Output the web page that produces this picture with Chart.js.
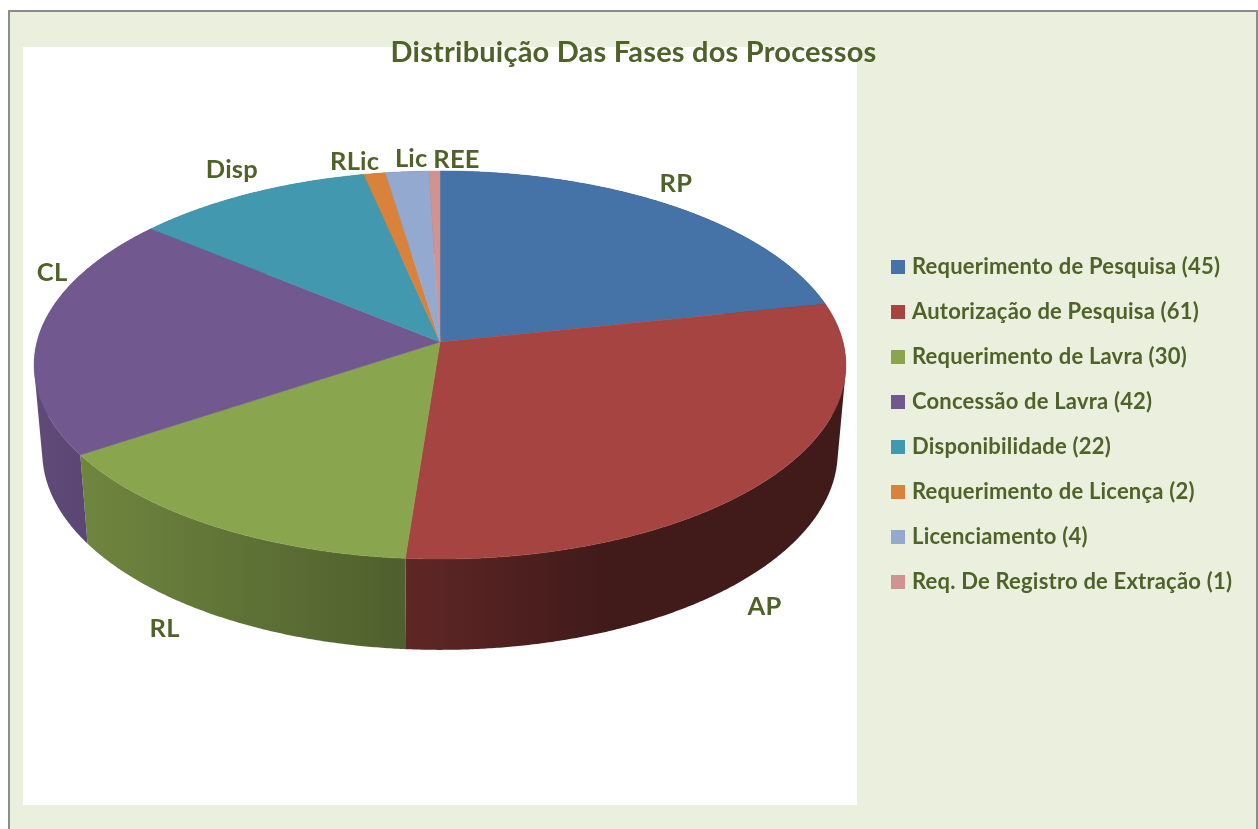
<!DOCTYPE html>
<html><head><meta charset="utf-8">
<style>html,body{margin:0;padding:0;background:#fff}canvas{display:block}</style>
<script src="https://cdn.jsdelivr.net/npm/chart.js@4"></script>
</head><body><div style="width:1258px;height:829px"><canvas id="c"></canvas></div>
<script>
const chartTitle = 'Distribuição Das Fases dos Processos';
const categories = ['Requerimento de Pesquisa (45)','Autorização de Pesquisa (61)','Requerimento de Lavra (30)','Concessão de Lavra (42)','Disponibilidade (22)','Requerimento de Licença (2)','Licenciamento (4)','Req. De Registro de Extração (1)'];
const shortLabels = ['RP','AP','RL','CL','Disp','RLic','Lic','REE'];
const values = [45,61,30,42,22,2,4,1];
const colors = ['#4572A7','#A64442','#89A54E','#71588F','#4198AF','#D9823C','#93A9CF','#D19392'];
const labelOffsets = [[3,-22],[-4,128],[-48,103],[12,-59],[-18,-24],[-20,-12],[4,-13],[22,-11]];

const TEXT = '#4F6228', FONT = 'Lato, Carlito, sans-serif';
// perspective of the disc
const P = {cx:440, cy:342, k:403, a:191.3, c:-0.1186, depth:86.5, xs:0.98, ys:1.02};
function topPt(ang){const u=Math.cos(ang),v=Math.sin(ang),d=1+P.c*v;return [P.cx+P.k*u/d,P.cy+P.a*v/d];}
function lowPt(ang){const u=Math.cos(ang),v=Math.sin(ang),d=1+P.c*v;return [P.cx+P.xs*P.k*u/d,P.cy+P.depth+P.ys*P.a*v/d];}
function rim(fn,a0,a1){const n=Math.max(2,Math.ceil(Math.abs(a1-a0)/0.006)),o=[];for(let i=0;i<=n;i++)o.push(fn(a0+(a1-a0)*i/n));return o;}
function shade(hex,f){const n=parseInt(hex.slice(1),16);return `rgb(${Math.round((n>>16)*f)},${Math.round(((n>>8)&255)*f)},${Math.round((n&255)*f)})`;}
function quadArea(q){let s=0;for(let i=0;i<4;i++){const a=q[i],b=q[(i+1)%4];s+=a[0]*b[1]-b[0]*a[1];}return s;}
const wallStops=[[35,.84],[80,.81],[405,.575],[600,.39],[850,.39]];

const disc3d = {
  id:'disc3d',
  beforeDraw(chart){
    const ctx=chart.ctx;ctx.save();
    ctx.fillStyle='#fff';ctx.fillRect(0,0,1258,829);
    ctx.fillStyle='#EBF0DE';ctx.fillRect(9,11,1248,818);
    ctx.strokeStyle='#8C8C8C';ctx.lineWidth=2;
    ctx.beginPath();ctx.moveTo(9,829);ctx.lineTo(9,11);ctx.lineTo(1257,11);ctx.lineTo(1257,829);ctx.stroke();
    ctx.fillStyle='#fff';ctx.fillRect(23,47,834,758);
    ctx.restore();
    ctx.letterSpacing='0.2px';
  },
  afterLayout(chart){
    const L=chart.legend; const w=L.width,h=L.height;
    L.left=872;L.right=L.left+w;L.top=233;L.bottom=L.top+h;
    chart.titleBlock.left+=4.5;chart.titleBlock.right+=4.5;
  },
  beforeDatasetsDraw(chart){
    const ctx=chart.ctx,arcs=chart.getDatasetMeta(0).data;
    ctx.save();
    arcs.forEach((el,i)=>{
      const a0=el.startAngle,a1=el.endAngle;
      const g=ctx.createLinearGradient(35,0,850,0);
      wallStops.forEach(s=>g.addColorStop((s[0]-35)/815,shade(colors[i],s[1])));
      ctx.fillStyle=g;
      const t=rim(topPt,a0,a1),b=rim(lowPt,a0,a1);
      ctx.beginPath();
      for(let j=0;j<t.length-1;j++){
        let q=[t[j],t[j+1],b[j+1],b[j]];
        if(quadArea(q)<0)q=q.reverse();
        ctx.moveTo(q[0][0],q[0][1]);ctx.lineTo(q[1][0],q[1][1]);ctx.lineTo(q[2][0],q[2][1]);ctx.lineTo(q[3][0],q[3][1]);ctx.closePath();
      }
      ctx.fill();
    });
    arcs.forEach((el,i)=>{
      ctx.beginPath();ctx.moveTo(P.cx,P.cy);
      rim(topPt,el.startAngle,el.endAngle).forEach(p=>ctx.lineTo(p[0],p[1]));
      ctx.closePath();
      ctx.fillStyle=colors[i];ctx.strokeStyle=colors[i];ctx.lineWidth=0.5;
      ctx.fill();ctx.stroke();
    });
    ctx.font='bold 25.5px '+FONT;ctx.fillStyle=TEXT;ctx.textAlign='center';ctx.textBaseline='middle';
    arcs.forEach((el,i)=>{
      const p=topPt((el.startAngle+el.endAngle)/2);
      ctx.fillText(shortLabels[i],p[0]+labelOffsets[i][0],p[1]+labelOffsets[i][1]);
    });
    ctx.restore();
    return false;
  }
};

new Chart(document.getElementById('c'),{
  type:'pie',
  data:{labels:categories,datasets:[{data:values,backgroundColor:colors,borderWidth:0}]},
  plugins:[disc3d],
  options:{
    responsive:true,maintainAspectRatio:false,animation:false,
    plugins:{
      tooltip:{enabled:false},
      title:{display:true,text:chartTitle,color:TEXT,font:{family:FONT,size:29,weight:'bold'},padding:{top:35,bottom:10}},
      legend:{position:'right',align:'start',labels:{color:TEXT,font:{family:FONT,size:22,weight:'bold'},boxWidth:6,boxHeight:14,usePointStyle:true,pointStyle:'rect',padding:23}}
    }
  }
});
</script></body></html>
